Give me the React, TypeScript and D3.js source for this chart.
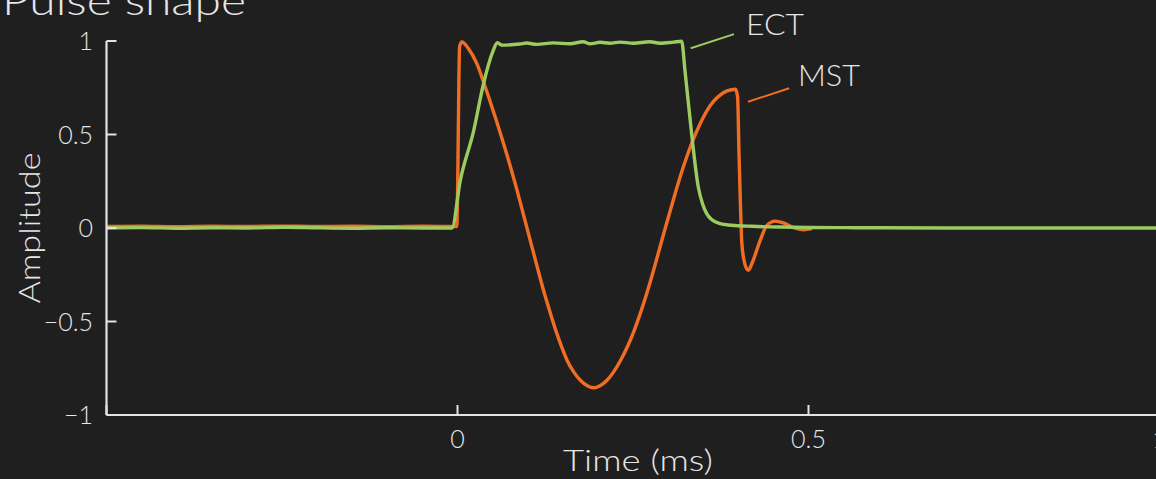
import React from 'react';
import * as d3 from 'd3';

// ---- data (time in ms, normalised amplitude) ----
const ectTime = [-0.5, -0.45, -0.4, -0.35, -0.3, -0.245, -0.2, -0.15, -0.1, -0.05, -0.008,
  0.004, 0.023, 0.037, 0.05, 0.0567, 0.0629, 0.089, 0.0985, 0.1128, 0.1365, 0.16, 0.179, 0.1887,
  0.203, 0.2172, 0.2315, 0.2505, 0.274, 0.2885, 0.3075, 0.3193,
  0.324, 0.334, 0.343, 0.349, 0.355, 0.362, 0.374, 0.39, 0.42, 0.46, 0.5, 0.55, 0.6, 0.7, 0.8, 0.9, 1.0];
const ectAmp = [0, 0.002, -0.001, 0.001, 0, 0.004, 0.001, -0.001, 0.001, 0, 0,
  0.255, 0.52, 0.77, 0.94, 0.991, 0.978, 0.984, 0.989, 0.982, 0.99, 0.985, 0.996, 0.985,
  0.993, 0.988, 0.994, 0.988, 0.996, 0.988, 0.994, 0.999,
  0.843, 0.487, 0.219, 0.13, 0.077, 0.045, 0.023, 0.015, 0.009, 0.005, 0.003, 0.002, 0.001, 0, 0, 0, 0];

const mstTime = [-0.5, -0.45, -0.4, -0.35, -0.3, -0.25, -0.2, -0.15, -0.1, -0.05, -0.001,
  0.0005, 0.002, 0.003, 0.0063, 0.0157, 0.0276, 0.0395, 0.0537, 0.0704, 0.0846, 0.0935,
  0.1036, 0.113, 0.1225, 0.132, 0.1416, 0.149, 0.156, 0.166, 0.175, 0.185, 0.194, 0.203, 0.213, 0.222,
  0.232, 0.242, 0.251, 0.261, 0.27, 0.279, 0.2875, 0.296, 0.305, 0.316,
  0.327, 0.336, 0.346, 0.355, 0.365, 0.375, 0.384, 0.396, 0.399, 0.401, 0.403, 0.405, 0.408, 0.4115, 0.4145,
  0.4194, 0.4312, 0.4407, 0.4526, 0.4644, 0.4786, 0.4929, 0.505];
const mstAmp = [0.008, 0.01, 0.007, 0.009, 0.008, 0.01, 0.008, 0.009, 0.007, 0.009, 0.008,
  0.3, 0.8, 0.97, 0.995, 0.959, 0.879, 0.754, 0.594, 0.392, 0.205, 0.078,
  -0.066, -0.2, -0.333, -0.452, -0.565, -0.642, -0.707, -0.772, -0.814, -0.843, -0.854, -0.843, -0.814, -0.772,
  -0.71, -0.635, -0.555, -0.45, -0.345, -0.23, -0.115, 0.0, 0.118, 0.26,
  0.385, 0.475, 0.56, 0.625, 0.678, 0.713, 0.733, 0.742, 0.7, 0.4, 0.13, -0.08, -0.17, -0.215, -0.226,
  -0.19, -0.066, 0.014, 0.037, 0.027, 0.002, -0.009, -0.003];

const xTicks = [-0.5, 0, 0.5, 1];
const xTickLabels = ['', '0', '0.5', '1'];
const yTicks = [-1, -0.5, 0, 0.5, 1];
const yTickLabels = ['\u22121', '\u22120.5', '0', '0.5', '1'];

const seriesNames = ['ECT', 'MST'];
const calloutFrom = [[0.3322, 0.961], [0.4138, 0.675]];
const calloutTo = [[0.3939, 1.037], [0.4726, 0.747]];
const labelAt = [[0.411, 1.032], [0.485, 0.759]];

const W = 1156, H = 479;
const BG = '#1f1f1f';
const AXIS = '#e2e2e2';
const TEXT = '#e6e6e6';
const GREEN = '#9ccb5f';
const ORANGE = '#f26d24';
const FONT = "Lato, 'Open Sans', sans-serif";

export default function App() {
  const x = d3.scaleLinear().domain([-0.5, 1]).range([106.5, 1159.5]);
  const y = d3.scaleLinear().domain([-1, 1]).range([415, 41]);
  const line = d3.line<[number, number]>()
    .x(d => x(d[0]))
    .y(d => y(d[1]))
    .curve(d3.curveMonotoneX);
  const ect: [number, number][] = ectTime.map((t, i) => [t, ectAmp[i]]);
  const mst: [number, number][] = mstTime.map((t, i) => [t, mstAmp[i]]);
  const colors = [GREEN, ORANGE];
  const labelWidths = [58, 62];

  return (
    <div style={{ position: 'absolute', left: 0, top: 0, width: W, height: H }}>
      <svg width={W} height={H} style={{ display: 'block', background: BG }} fontFamily={FONT}>
        <rect x={0} y={0} width={W} height={H} fill={BG} />
        <text x={2} y={15} fill={TEXT} fontSize={40} fontWeight={300} textLength={244} lengthAdjust="spacingAndGlyphs">Pulse shape</text>

        {/* series */}
        <path d={line(mst) || ''} fill="none" stroke={ORANGE} strokeWidth={3.4} strokeLinejoin="round" />
        <path d={line(ect) || ''} fill="none" stroke={GREEN} strokeWidth={3.4} strokeLinejoin="round" />

        {/* axes */}
        <line x1={x(-0.5)} x2={W} y1={y(-1)} y2={y(-1)} stroke={AXIS} strokeWidth={2.2} />
        <line x1={x(-0.5)} x2={x(-0.5)} y1={y(1)} y2={y(-1)} stroke={AXIS} strokeWidth={2.2} />
        {yTicks.map((v, i) => (
          <g key={'y' + i}>
            <line x1={x(-0.5)} x2={x(-0.5) + 10} y1={y(v)} y2={y(v)} stroke={AXIS} strokeWidth={2} />
            <text x={93} y={y(v)} dy="0.36em" textAnchor="end" fill={TEXT} fontSize={25} fontWeight={300}>{yTickLabels[i]}</text>
          </g>
        ))}
        {xTicks.map((t, i) => (
          <g key={'x' + i}>
            <line x1={x(t)} x2={x(t)} y1={y(-1)} y2={y(-1) - 10} stroke={AXIS} strokeWidth={2} />
            <text x={x(t)} y={448} textAnchor="middle" fill={TEXT} fontSize={25} fontWeight={300}>{xTickLabels[i]}</text>
          </g>
        ))}
        <text x={638} y={471} textAnchor="middle" fill={TEXT} fontSize={29} fontWeight={300} textLength={150} lengthAdjust="spacingAndGlyphs">Time (ms)</text>
        <text transform={`translate(40,228) rotate(-90)`} textAnchor="middle" fill={TEXT} fontSize={29} fontWeight={300} textLength={151} lengthAdjust="spacingAndGlyphs">Amplitude</text>

        {/* callouts */}
        {seriesNames.map((n, i) => (
          <g key={n}>
            <line x1={x(calloutFrom[i][0])} y1={y(calloutFrom[i][1])} x2={x(calloutTo[i][0])} y2={y(calloutTo[i][1])} stroke={colors[i]} strokeWidth={2} />
            <text x={x(labelAt[i][0])} y={y(labelAt[i][1])} fill={TEXT} fontSize={30} fontWeight={300} textLength={labelWidths[i]} lengthAdjust="spacingAndGlyphs">{n}</text>
          </g>
        ))}
      </svg>
    </div>
  );
}
